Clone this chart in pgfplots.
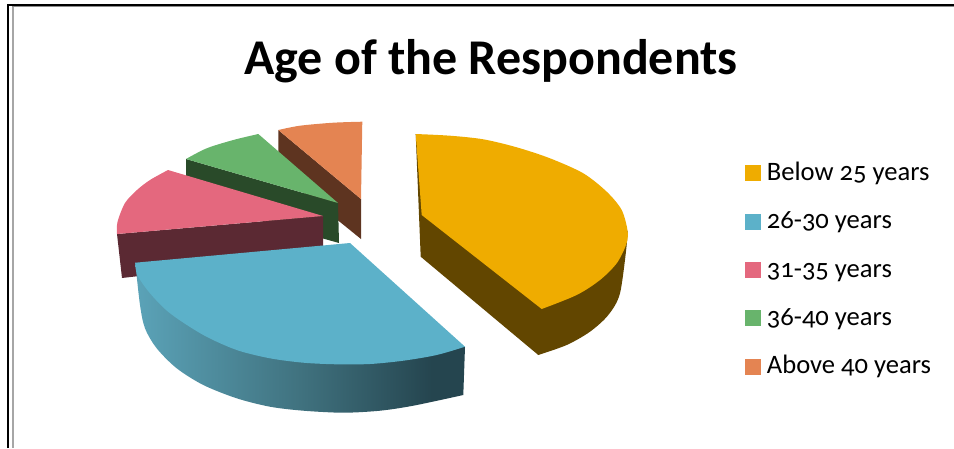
\documentclass[border=0pt]{standalone}
\usepackage{pgfplots}
\pgfplotsset{compat=1.18}
\usepackage{fontspec}
\setmainfont{Carlito}
\newfontfamily\legendfont[Numbers=OldStyle]{Carlito}

% Face and wall colours of the five slices
\definecolor{yellowtop}{HTML}{EFAC00}
\definecolor{yellowside}{HTML}{624600}
\definecolor{bluetop}{HTML}{5CB1C9}
\definecolor{blueleft}{HTML}{5BA3B8}
\definecolor{bluemid}{HTML}{40727F}
\definecolor{blueright}{HTML}{25454F}
\definecolor{pinktop}{HTML}{E4687E}
\definecolor{pinkside}{HTML}{5B2933}
\definecolor{greentop}{HTML}{68B46C}
\definecolor{greenside}{HTML}{294A29}
\definecolor{orangetop}{HTML}{E48452}
\definecolor{orangeside}{HTML}{5E3420}

% Curved wall of the 26-30 slice: darkens to the right, then stays dark
\pgfdeclarehorizontalshading{bluewall}{100bp}{
  color(0bp)=(blueleft); color(25bp)=(blueleft); color(50bp)=(bluemid);
  color(70bp)=(blueright); color(100bp)=(blueright)}

\begin{document}
\begin{tikzpicture}
\begin{axis}[
  scale only axis, width=954pt, height=448pt,
  xmin=0, xmax=954, ymin=0, ymax=448, y dir=reverse,
  axis line style={draw=none}, xtick=\empty, ytick=\empty,
  no markers, clip=true,
  title={\bfseries\fontsize{50}{50}\selectfont Age of the Respondents},
  title style={at={(0.5147,0.850)},anchor=center,inner sep=0pt},
  legend style={
    at={(745/954,1-161.5/448)}, anchor=north west, draw=none, fill=none,
    inner sep=0pt, outer sep=0pt, row sep=23.3pt, column sep=0pt,
    cells={anchor=base west},
    nodes={inner sep=0pt, outer sep=0pt, text height=19pt, text depth=6pt,
           font=\legendfont\fontsize{26.6}{26.6}\selectfont},
    /tikz/every odd column/.append style={column sep=6.5pt},
  },
  legend image code/.code={\fill[#1] (0pt,0pt) rectangle (15pt,15pt);},
]
\addlegendimage{yellowtop}
\addlegendimage{bluetop}
\addlegendimage{pinktop}
\addlegendimage{greentop}
\addlegendimage{orangetop}

% Frame of the sheet
\addplot[black, line width=2pt] coordinates {(8,448) (8,5) (954,5)};
\addplot[black!35, line width=2pt] coordinates {(13,448) (13,6.5)};
\addplot[black!45, line width=1pt] coordinates {(12,6.5) (954,6.5)};

% Above 40 years
\addplot[draw=none, fill=orangeside] coordinates {(278.3,130) (361,199) (361,239) (278.3,172)} -- cycle;
\addplot[smooth, draw=none, fill=orangetop] coordinates {(278.3,130) (300,125.7) (333.3,122.7) (362.3,121.7)} -- (axis cs:361,199) -- cycle;

% 36-40 years
\addplot[draw=none, fill=greenside] coordinates {(186,159) (338,203) (339,243) (186,200)} -- cycle;
\addplot[smooth, draw=none, fill=greentop] coordinates {(186,159) (206.7,148.3) (233.3,140) (258.3,134)} -- (axis cs:338,203) -- cycle;

% 31-35 years
\addplot[draw=none, fill=pinkside] coordinates {(117,234) (122,278) (135,276.5) (323,255) (323,216)} -- cycle;
\addplot[smooth, draw=none, fill=pinktop] coordinates {(117,234) (117.5,222) (125,203) (137,190) (150,180) (168,170)} -- (axis cs:323,216) -- cycle;

% 26-30 years
\addplot[smooth, draw=none, shade, shading=bluewall]
  coordinates {(135.3,262.7) (140,305) (145,328.3) (156.7,348.3) (176.7,368.3) (203.3,385) (236.7,398.3)
               (270,406.7) (303.3,410.7) (343.3,412.7) (380,410.7) (413.3,405.7) (463.3,395)}
  -- (axis cs:465,347) -- cycle;
\addplot[smooth, draw=none, fill=bluetop]
  coordinates {(135.3,262.7) (137.3,275) (150,293.3) (170,313.3) (203.3,335) (236.7,350) (270,358.3)
               (303.3,362.7) (336.7,364.3) (370,364) (403.3,360.7) (436.7,355) (465,346.7)}
  -- (axis cs:350,243) -- cycle;

% Below 25 years
\addplot[smooth, draw=none, fill=yellowside]
  coordinates {(538.3,355) (566.7,345) (590,331.7) (608.3,315) (620,293.3) (626.7,245)}
  -- (axis cs:627.7,231) -- (axis cs:415.7,134) -- (axis cs:420.7,256.7) -- cycle;
\addplot[smooth, draw=none, fill=yellowtop]
  coordinates {(415.7,134) (450,135.7) (483.3,139.3) (516.7,147.3) (550,158.3) (583.3,173.3) (606.7,191.7)
               (621.7,210) (627.7,231.7) (626,245) (616.7,263.3) (600,280) (576.7,295) (541.7,309)}
  -- (axis cs:421.7,215) -- cycle;

\legend{Below 25 years, 26-30 years, 31-35 years, 36-40 years, Above 40 years}
\end{axis}
\end{tikzpicture}
\end{document}
